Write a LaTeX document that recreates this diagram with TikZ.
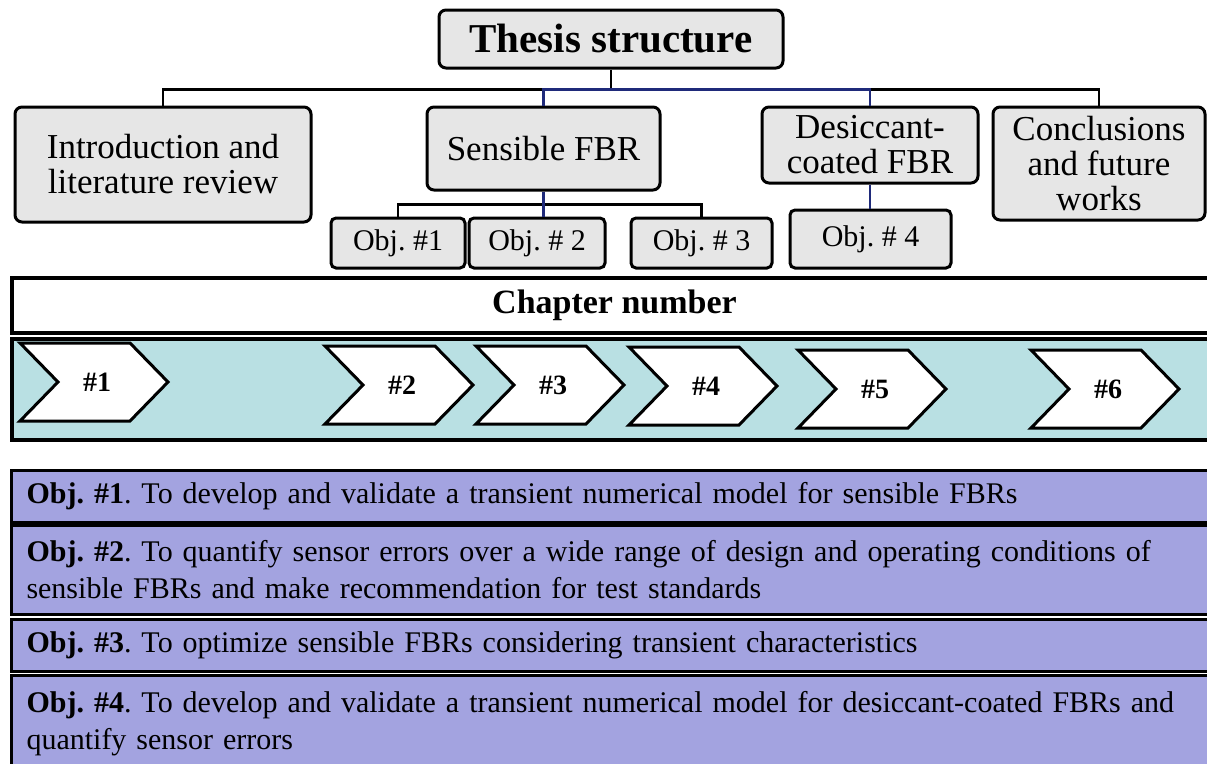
\documentclass[tikz,border=0pt]{standalone}
\usepackage{fontspec}
\setmainfont{Liberation Serif}
\usepackage[dvipsnames]{xcolor}
\usepackage{tikz}
\definecolor{boxgray}{HTML}{E6E6E6}
\definecolor{bandteal}{HTML}{B9E0E3}
\definecolor{objlav}{HTML}{A3A3E0}
\definecolor{linknavy}{HTML}{1F2A7A}
\frenchspacing

\begin{document}
\begin{tikzpicture}[x=1pt, y=-1pt,
  topbox/.style={draw, line width=3pt, rounded corners=7pt, fill=boxgray, align=center, inner sep=0pt, font=\fontsize{35}{35}\selectfont},
  objbox/.style={topbox, rounded corners=5pt, font=\fontsize{30}{30}\selectfont},
  link/.style={line width=2.5pt},
  navylink/.style={line width=2.5pt, linknavy},
  chev/.style={line width=3pt, fill=white, line join=miter},
  chevlbl/.style={font=\bfseries\fontsize{28}{28}\selectfont},
  aimbox/.style={draw, line width=3pt, fill=objlav, anchor=north west, inner xsep=15pt, inner ysep=0pt, minimum width=1215pt, text width=1185pt, align=left, font=\fontsize{30}{37}\selectfont}]
\useasboundingbox (0,0) rectangle (1207,763);
\clip (0,0) rectangle (1207,763);
%
\node[topbox, font=\bfseries\fontsize{41}{41}\selectfont, minimum width=344pt, minimum height=58pt] (thesis) at (611,39) {Thesis structure};
\node[topbox, minimum width=296pt, minimum height=115pt] (intro) at (163,164.5) {Introduction and\\literature review};
\node[topbox, minimum width=233pt, minimum height=83pt] (sens) at (543.5,148.5) {Sensible FBR};
\node[topbox, minimum width=216pt, minimum height=76pt] (desic) at (870,145) {Desiccant-\\coated FBR};
\node[topbox, minimum width=212pt, minimum height=113pt] (concl) at (1099,163.5) {Conclusions\\and future\\works};
%
\node[objbox, minimum width=134pt, minimum height=50pt] (o1) at (398,243) {Obj. \#1};
\node[objbox, minimum width=136pt, minimum height=50pt] (o2) at (537,243) {Obj. \# 2};
\node[objbox, minimum width=141pt, minimum height=50pt] (o3) at (701.5,243) {Obj. \# 3};
\node[objbox, minimum width=161pt, minimum height=58pt] (o4) at (870.5,239) {Obj. \# 4};
%
\draw[link] (thesis.south) -- ++(0,20) coordinate (bus) -| (intro.north);
\draw[link] (bus) -| (concl.north);
\draw[navylink] (bus) -| (sens.north);
\draw[navylink] (bus) -| (desic.north);
\draw[link] (sens.south) -- ++(0,13) coordinate (sbus) -| (o1.north);
\draw[link] (sbus) -| (o3.north);
\draw[navylink] (sens.south) -- (sens.south |- o2.north);
\draw[navylink] (desic.south) -- (desic.south |- o4.north);
%
\node[draw, line width=4pt, fill=white, anchor=north west, minimum width=1215pt, minimum height=55pt, font=\bfseries\fontsize{34}{34}\selectfont] (chap) at (10,276) {\hspace*{-10pt}Chapter number};
\node[draw, line width=4pt, fill=bandteal, anchor=north west, minimum width=1215pt, minimum height=101pt] (band) at (10,337) {};
\foreach \x/\y/\n in {20/343/1, 325/346/2, 476/346/3, 629/347/4, 798/350/5, 1031/350/6}{
  \draw[chev] (\x,\y) -- ++(110,0) -- ++(38,39) -- ++(-38,39) -- ++(-110,0) -- ++(38,-39) -- cycle;
  \node[chevlbl] (ch\n) at (\x+77,\y+39) {\#\n};
}
%
\node[aimbox, minimum height=52pt] (aim1) at (10,469) {\textbf{Obj. \#1}. To develop and validate a transient numerical model for sensible FBRs};
\node[aimbox, minimum height=89pt] (aim2) at (10,524) {\textbf{Obj. \#2}. To quantify sensor errors over a wide range of design and operating conditions of\\sensible FBRs and make recommendation for test standards};
\node[aimbox, minimum height=52pt] (aim3) at (10,618) {\textbf{Obj. \#3}. To optimize sensible FBRs considering transient characteristics};
\node[aimbox, minimum height=96pt] (aim4) at (10,674) {\textbf{Obj. \#4}. To develop and validate a transient numerical model for desiccant-coated FBRs and\\quantify sensor errors};
\end{tikzpicture}
\end{document}
